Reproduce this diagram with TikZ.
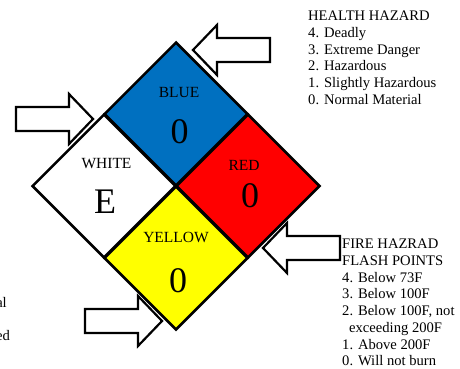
\documentclass[tikz,border=0pt]{standalone}
\usepackage{fontspec}
\setmainfont{Liberation Serif}
\usetikzlibrary{shapes.geometric}
\definecolor{nfpablau}{RGB}{0,112,192}
\definecolor{nfparot}{RGB}{255,0,0}
\definecolor{nfpagelb}{RGB}{255,255,0}

\begin{document}
\begin{tikzpicture}[x=1pt,y=-1pt]
	\useasboundingbox (0,0) rectangle (460,369);
	\clip (0,0) rectangle (460,369);

	\begin{scope}[every node/.style={diamond,draw,line width=2.5pt,minimum width=144pt,minimum height=144pt,inner sep=0pt}]
		\node[fill=nfpablau] (blau) at (176,114) {};
		\node[fill=white] (weiss) at (104,186) {};
		\node[fill=nfparot] (rot) at (248,186) {};
		\node[fill=nfpagelb] (gelb) at (176,258) {};
	\end{scope}

	\begin{scope}[every node/.style={font=\fontsize{15.5}{18}\selectfont,inner sep=0pt}]
		\node (blautext) at (179,93) {BLUE};
		\node (weisstext) at (106.5,164) {WHITE};
		\node (rottext) at (244,165) {RED};
		\node (gelbtext) at (176,237) {YELLOW};
	\end{scope}

	\begin{scope}[every node/.style={font=\fontsize{36}{40}\selectfont,inner sep=0pt}]
		\node (blauzahl) at (179.5,132) {0};
		\node (weisszahl) at (105,202) {E};
		\node (rotzahl) at (250,196) {0};
		\node (gelbzahl) at (178,281) {0};
	\end{scope}

	\coordinate (spitzeA) at (193,50);
	\coordinate (spitzeB) at (93,119);
	\coordinate (spitzeC) at (162,321);
	\coordinate (spitzeD) at (263,248);

	\begin{scope}[line width=2.2pt]
		\filldraw[fill=white] (spitzeA) -- ++(24,-25) -- ++(0,13) -- ++(53,0) -- ++(0,24) -- ++(-53,0) -- ++(0,13) -- cycle;
		\filldraw[fill=white] (spitzeB) -- ++(-24,-25) -- ++(0,13) -- ++(-53,0) -- ++(0,24) -- ++(53,0) -- ++(0,13) -- cycle;
		\filldraw[fill=white] (spitzeC) -- ++(-24,-25) -- ++(0,13) -- ++(-53,0) -- ++(0,24) -- ++(53,0) -- ++(0,13) -- cycle;
		\filldraw[fill=white] (spitzeD) -- ++(24,-25) -- ++(0,13) -- ++(53,0) -- ++(0,24) -- ++(-53,0) -- ++(0,13) -- cycle;
	\end{scope}

	\begin{scope}[every node/.style={font=\fontsize{14.6}{16.7}\selectfont,align=left,inner sep=0pt}]
		\node[anchor=north west] (gesundheit) at (308,11) {HEALTH HAZARD\\4. Deadly\\3. Extreme Danger\\2. Hazardous\\1. Slightly Hazardous\\0. Normal Material};
		\node[anchor=north west] (feuer) at (342,239) {FIRE HAZRAD\\FLASH POINTS\\4. Below 73F\\3. Below 100F\\2. Below 100F, not\\\hspace*{7pt}exceeding 200F\\1. Above 200F\\0. Will not burn};
		\node[anchor=base east] (restA) at (7,307) {al};
		\node[anchor=base east] (restB) at (10,340) {ed};
	\end{scope}
\end{tikzpicture}
\end{document}
